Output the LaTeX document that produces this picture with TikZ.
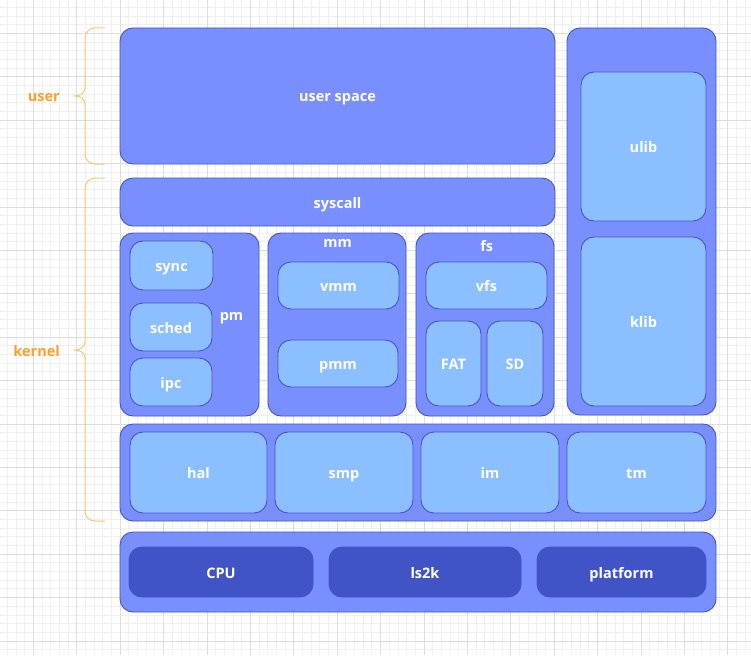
\documentclass[tikz,border=0pt]{standalone}
\usepackage{fontspec}
\setmainfont{Open Sans}
\definecolor{outerfill}{HTML}{7A8FFF}
\definecolor{innerfill}{HTML}{8CBFFF}
\definecolor{darkfill}{HTML}{4154C6}
\definecolor{boxline}{HTML}{4454C4}
\definecolor{bracecol}{HTML}{FFC56E}
\definecolor{labcol}{HTML}{FF9E2A}
\definecolor{gridminor}{HTML}{F0F0F0}
\definecolor{gridmajor}{HTML}{DDDDDD}
\tikzset{
  basebox/.style={rectangle, rounded corners=13pt, inner sep=0pt, line width=0.9pt, draw=boxline,
    text=white, font=\fontsize{14.5}{17}\selectfont\bfseries, text height=12pt, text depth=0pt},
  outerbox/.style={basebox, fill=outerfill},
  innerbox/.style={basebox, fill=innerfill},
  darkbox/.style={basebox, fill=darkfill, draw=darkfill},
  grplabel/.style={text=white, inner sep=0pt, anchor=base, font=\fontsize{14.5}{17}\selectfont\bfseries},
  sidelabel/.style={text=labcol, inner sep=0pt, anchor=base east, font=\fontsize{14.5}{17}\selectfont\bfseries},
  bracket/.style={draw=bracecol, line width=1pt},
}
\begin{document}
\begin{tikzpicture}[x=1pt,y=-1pt]
\useasboundingbox (0,0) rectangle (751,655);
\fill[white] (0,0) rectangle (751,655);
% grid
\foreach \i in {-4,...,83} {
  \draw[gridminor, line width=0.7pt] ({33.3+8.68*\i},0) -- ({33.3+8.68*\i},655);
}
\foreach \i in {-4,...,76} {
  \draw[gridminor, line width=0.7pt] (0,{33.3+8.68*\i}) -- (751,{33.3+8.68*\i});
}
\foreach \i in {-1,...,17} {
  \draw[gridmajor, line width=0.8pt] ({33.3+43.4*\i},0) -- ({33.3+43.4*\i},655);
  \draw[gridmajor, line width=0.8pt] (0,{33.3+43.4*\i}) -- (751,{33.3+43.4*\i});
}
% braces
\draw[bracket] (105,28) -- (95,28) .. controls (89.5,28) and (85,32.5) .. (85,38) -- (85,88)
  .. controls (85,93) and (80,96) .. (75,96) .. controls (80,96) and (85,99) .. (85,104)
  -- (85,154) .. controls (85,159.5) and (89.5,164) .. (95,164) -- (105,164);
\draw[bracket] (105,178) -- (95,178) .. controls (89.5,178) and (85,182.5) .. (85,188) -- (85,342)
  .. controls (85,347) and (80,350) .. (75,350) .. controls (80,350) and (85,353) .. (85,358)
  -- (85,511) .. controls (85,516.5) and (89.5,521) .. (95,521) -- (105,521);
\node[sidelabel] (userlab) at (60,101.5) {user};
\node[sidelabel] (kernellab) at (60,356) {kernel};
% user space / libs
\node[outerbox, minimum width=435pt, minimum height=136pt] (userspace) at (337.5,96) {user space};
\node[outerbox, minimum width=149pt, minimum height=387pt] (libs) at (641.5,221.5) {};
\node[innerbox, minimum width=125pt, minimum height=149pt] (ulib) at (643.5,146.5) {ulib};
\node[innerbox, minimum width=125pt, minimum height=169pt] (klib) at (643.5,321.5) {klib};
% syscall
\node[outerbox, minimum width=435pt, minimum height=48pt] (syscall) at (337.5,202) {syscall};
% pm
\node[outerbox, minimum width=139pt, minimum height=183pt] (pm) at (189.5,324.5) {};
\node[grplabel] (pmlab) at (231.5,320) {pm};
\node[innerbox, minimum width=83pt, minimum height=49pt] (sync) at (171.5,265.5) {sync};
\node[innerbox, minimum width=82pt, minimum height=48pt] (sched) at (171,327) {sched};
\node[innerbox, minimum width=82pt, minimum height=48pt] (ipc) at (171,382) {ipc};
% mm
\node[outerbox, minimum width=138pt, minimum height=183pt] (mm) at (337,324.5) {};
\node[grplabel] (mmlab) at (337.7,247) {mm};
\node[innerbox, minimum width=121pt, minimum height=47pt] (vmm) at (338.5,285.5) {vmm};
\node[innerbox, minimum width=120pt, minimum height=47pt] (pmm) at (338,363.5) {pmm};
% fs
\node[outerbox, minimum width=138pt, minimum height=183pt] (fs) at (485,324.5) {};
\node[grplabel] (fslab) at (486.7,251.5) {fs};
\node[innerbox, minimum width=121pt, minimum height=47pt] (vfs) at (486.5,285.5) {vfs};
\node[innerbox, minimum width=55pt, minimum height=85pt] (fat) at (453.5,363.5) {FAT};
\node[innerbox, minimum width=56pt, minimum height=85pt] (sd) at (515,363.5) {SD};
% hal row
\node[outerbox, minimum width=596pt, minimum height=97pt] (halrow) at (418,472.5) {};
\node[innerbox, minimum width=137pt, minimum height=81pt] (hal) at (198.5,472.5) {hal};
\node[innerbox, minimum width=138pt, minimum height=81pt] (smp) at (344,472.5) {smp};
\node[innerbox, minimum width=138pt, minimum height=81pt] (im) at (490,472.5) {im};
\node[innerbox, minimum width=139pt, minimum height=81pt] (tm) at (636.5,472.5) {tm};
% hardware row
\node[outerbox, minimum width=596pt, minimum height=80pt] (hwrow) at (418,572) {};
\node[darkbox, minimum width=184pt, minimum height=50pt] (cpu) at (221,572) {CPU};
\node[darkbox, minimum width=192pt, minimum height=50pt] (ls2k) at (425,572) {ls2k};
\node[darkbox, minimum width=169pt, minimum height=50pt] (platform) at (621.5,572) {platform};
\end{tikzpicture}
\end{document}
